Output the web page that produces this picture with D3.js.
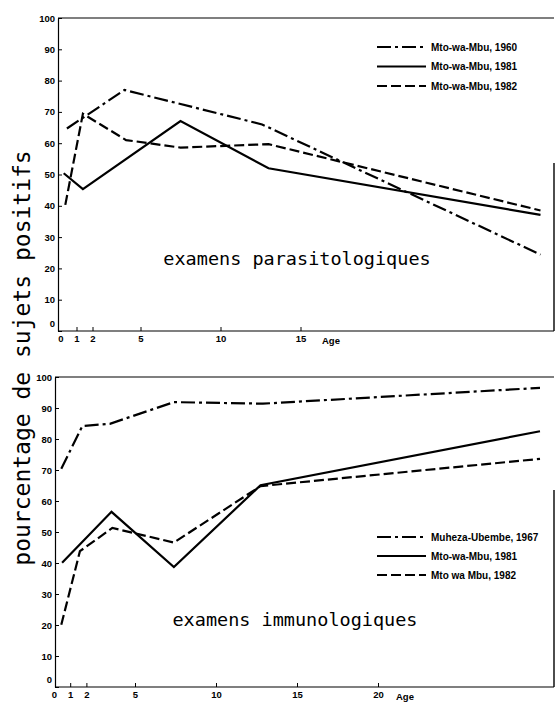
<!DOCTYPE html>
<html>
<head>
<meta charset="utf-8">
<script src="https://cdn.jsdelivr.net/npm/d3@7"></script>
<style>
  body { margin: 0; background: #fff; }
  .tick text { font-family: "Liberation Sans Narrow", "Liberation Sans", sans-serif; font-weight: bold; font-size: 9.5px; }
</style>
</head>
<body>
<div id="chart"></div>
<script>
var width = 556,
    height = 704;

// panel 1 : examens parasitologiques
var topLabels = ["Mto-wa-Mbu, 1960", "Mto-wa-Mbu, 1981", "Mto-wa-Mbu, 1982"];
var topAge1960 = [0.4, 4, 12.6, 30];
var topVal1960 = [64.7, 77, 66, 24.4];
var topAge1981 = [0.2, 1.4, 7.5, 13, 30];
var topVal1981 = [50.4, 45.3, 67.1, 52, 37.1];
var topAge1982 = [0.3, 1.4, 4.1, 7.5, 13, 30];
var topVal1982 = [40.3, 69.4, 61, 58.6, 59.7, 38.5];

// panel 2 : examens immunologiques
var botLabels = ["Muheza-Ubembe, 1967", "Mto-wa-Mbu, 1981", "Mto wa Mbu, 1982"];
var botAge1967 = [0.45, 1.75, 3.45, 7.4, 12.9, 30];
var botVal1967 = [70.4, 84.2, 84.9, 91.9, 91.4, 96.5];
var botAge1981 = [0.5, 3.55, 7.4, 12.75, 30];
var botVal1981 = [40.1, 56.5, 38.7, 65.1, 82.5];
var botAge1982 = [0.45, 1.6, 3.6, 7.4, 12.75, 30];
var botVal1982 = [20.1, 43.8, 51.3, 46.6, 64.8, 73.6];

var topXTicks = [0, 1, 2, 5, 10, 15];
var botXTicks = [0, 1, 2, 5, 10, 15, 20];
var yTicks = [0, 10, 20, 30, 40, 50, 60, 70, 80, 90, 100];

var styles = ["14,4,3,4", null, "10,4"];   // dash-dot, solid, dashed

var svg = d3.select("#chart").append("svg")
    .attr("width", width)
    .attr("height", height);

function zip(ages, vals) {
  return ages.map(function(a, i) { return {age: a, val: vals[i]}; });
}

function drawPanel(p) {
  var x = d3.scaleLinear().domain([0, 30]).range(p.xRange);
  var y = d3.scaleLinear().domain([0, 100]).range(p.yRange);
  var g = svg.append("g");

  // frame bits (top edge and partial right edge like the scan)
  g.append("line")
      .attr("x1", p.axisX).attr("x2", p.rightX)
      .attr("y1", y(100)).attr("y2", y(100))
      .attr("stroke", "#000").attr("stroke-width", 1.2);
  g.append("line")
      .attr("x1", p.rightX).attr("x2", p.rightX)
      .attr("y1", p.rightTop).attr("y2", y(0))
      .attr("stroke", "#000").attr("stroke-width", 1.4);

  // y axis
  var yAxis = g.append("g")
      .attr("transform", "translate(" + p.axisX + ",0)")
      .call(d3.axisLeft(y).tickValues(yTicks).tickSizeInner(-4).tickSizeOuter(0).tickPadding(3));
  yAxis.select(".domain").attr("stroke-width", 1.2);
  yAxis.selectAll(".tick text")
      .attr("dy", function(d) { return d == 0 ? "-0.45em" : "0.32em"; });

  // x axis
  var xAxis = g.append("g")
      .attr("transform", "translate(0," + y(0) + ")")
      .call(d3.axisBottom(x).tickValues(p.xTicks).tickSizeInner(-4).tickSizeOuter(0).tickPadding(4));
  xAxis.select(".domain")
      .attr("d", "M" + p.axisX + ",0H" + p.rightX)
      .attr("stroke-width", 1.2);
  xAxis.selectAll(".tick line").filter(function(d) { return d == 0; }).remove();
  xAxis.append("text")
      .attr("x", p.ageX).attr("y", 13)
      .attr("fill", "#000")
      .attr("text-anchor", "start")
      .style("font-family", "Liberation Sans Narrow, Liberation Sans, sans-serif")
      .style("font-weight", "bold")
      .style("font-size", "9.5px")
      .text("Age");

  var line = d3.line()
      .x(function(d) { return x(d.age); })
      .y(function(d) { return y(d.val); });

  p.series.forEach(function(s, i) {
    g.append("path")
        .datum(s)
        .attr("d", line)
        .attr("fill", "none")
        .attr("stroke", "#000")
        .attr("stroke-width", 2.2)
        .attr("stroke-dasharray", styles[i]);
  });

  // legend
  p.labels.forEach(function(lab, i) {
    var ly = p.legendY + i * p.legendStep;
    g.append("line")
        .attr("x1", 377).attr("x2", 426)
        .attr("y1", ly).attr("y2", ly)
        .attr("stroke", "#000")
        .attr("stroke-width", 1.8)
        .attr("stroke-dasharray", styles[i]);
    g.append("text")
        .attr("x", 431).attr("y", ly + 3.5)
        .style("font-family", "Liberation Sans, sans-serif")
        .style("font-weight", "bold")
        .style("font-size", "10px")
        .text(lab);
  });

  g.append("text")
      .attr("x", p.noteX).attr("y", p.noteY)
      .attr("text-anchor", "middle")
      .style("font-family", "DejaVu Sans Mono, monospace")
      .style("font-size", "18.5px")
      .text(p.note);
}

drawPanel({
  xRange: [60.5, 540.5], yRange: [331, 18], axisX: 58, rightX: 554, rightTop: 163,
  xTicks: topXTicks, ageX: 322,
  series: [zip(topAge1960, topVal1960), zip(topAge1981, topVal1981), zip(topAge1982, topVal1982)],
  labels: topLabels, legendY: 47, legendStep: 19.5,
  note: "examens parasitologiques", noteX: 297, noteY: 265
});

drawPanel({
  xRange: [54, 540], yRange: [687, 377], axisX: 55, rightX: 554, rightTop: 490,
  xTicks: botXTicks, ageX: 396,
  series: [zip(botAge1967, botVal1967), zip(botAge1981, botVal1981), zip(botAge1982, botVal1982)],
  labels: botLabels, legendY: 537, legendStep: 19,
  note: "examens immunologiques", noteX: 295, noteY: 626
});

// shared y title
svg.append("text")
    .attr("transform", "translate(30,358) rotate(-90)")
    .attr("text-anchor", "middle")
    .style("font-family", "DejaVu Sans Mono, monospace")
    .style("font-size", "23px")
    .text("pourcentage de sujets positifs");
</script>
</body>
</html>
